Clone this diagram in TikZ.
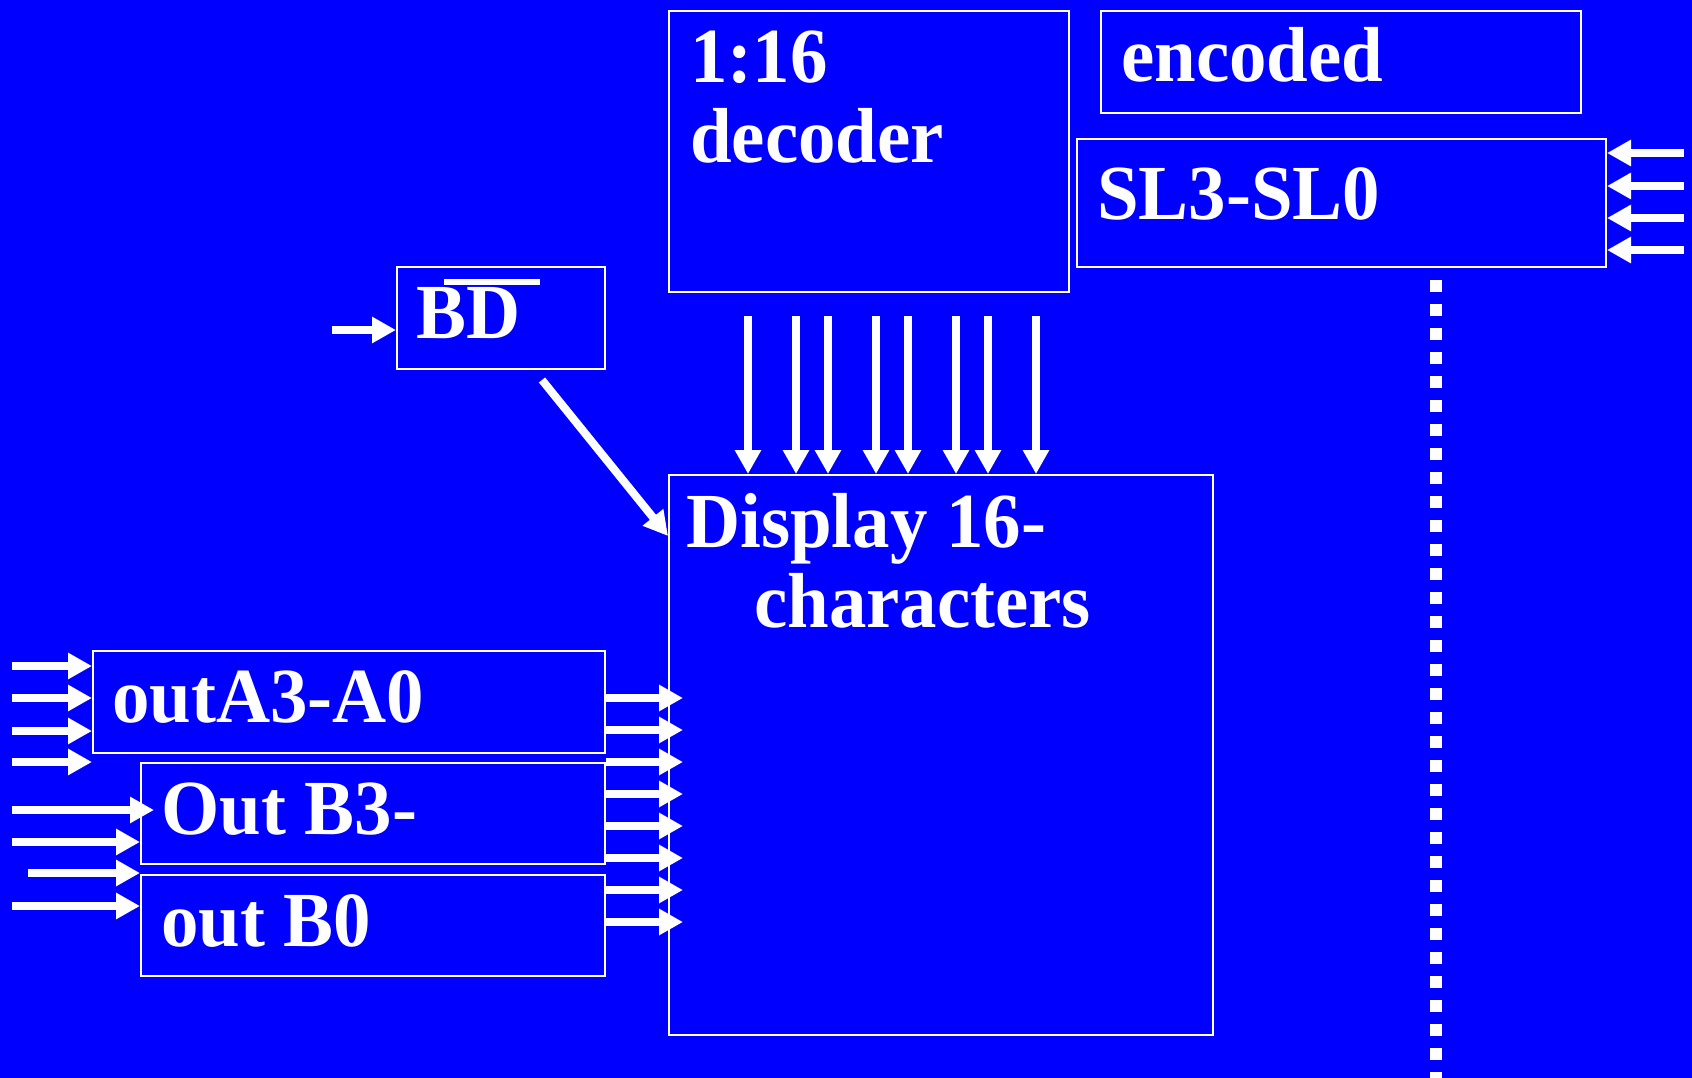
\documentclass[tikz,border=0pt]{standalone}
\usepackage{fontspec}
\setmainfont{Liberation Serif}[FakeStretch=0.96]
\usepackage{tikz}
\usetikzlibrary{arrows.meta, positioning, calc}

\begin{document}
\begin{tikzpicture}[x=1pt, y=-1pt,
	blk/.style={draw=white, line width=2pt, inner sep=0pt, anchor=north west},
	lbl/.style={text=white, inner sep=0pt, anchor=base west, font=\bfseries\fontsize{78}{80}\selectfont},
	sig/.style={white, line width=8pt, -{Triangle[length=24pt, width=25pt]}}]
	\fill[blue] (0,0) rectangle (1692,1078);
	\useasboundingbox (0,0) rectangle (1692,1078);
	\node[blk, minimum width=400, minimum height=281] (dec) at (668,10) {};
	\node[blk, minimum width=480, minimum height=102] (enc) at (1100,10) {};
	\node[blk, minimum width=529, minimum height=128] (sl) at (1076,138) {};
	\node[blk, minimum width=208, minimum height=102] (bd) at (396,266) {};
	\node[blk, minimum width=544, minimum height=560] (disp) at (668,474) {};
	\node[blk, minimum width=512, minimum height=102] (outa) at (92,650) {};
	\node[blk, minimum width=464, minimum height=101] (outb3) at (140,762) {};
	\node[blk, minimum width=464, minimum height=101] (outb0) at (140,874) {};
	\node[lbl] (declbl) at ([shift={(22,73)}]dec.north west) {1:16};
	\node[lbl] (declbl2) at ([shift={(22,153)}]dec.north west) {decoder};
	\node[lbl] (enclbl) at ([shift={(21,72)}]enc.north west) {encoded};
	\node[lbl] (sllbl) at ([shift={(21,82)}]sl.north west) {SL3-SL0};
	\node[lbl] (bdlbl) at ([shift={(20,72)}]bd.north west) {BD};
	\fill[white] ([shift={(48,13)}]bd.north west) rectangle ([shift={(144,19)}]bd.north west);
	\node[lbl] (displbl) at ([shift={(18,73)}]disp.north west) {Display 16-};
	\node[lbl] (displbl2) at ([shift={(86,153)}]disp.north west) {characters};
	\node[lbl] (outalbl) at ([shift={(20,72)}]outa.north west) {outA3-A0};
	\node[lbl] (outb3lbl) at ([shift={(21,72)}]outb3.north west) {Out B3-};
	\node[lbl] (outb0lbl) at ([shift={(21,72)}]outb0.north west) {out B0};
	\draw[sig] (332,330) -- (bd.west |- 0,330);
	\draw[sig] ([xshift=-64pt, yshift=-10pt]bd.south east) -- ([yshift=-62pt]disp.north west);
	\foreach \x in {748,796,828,876,908,956,988,1036}
		\draw[sig] ([yshift=-23pt]dec.south -| \x,0) -- (disp.north -| \x,0);
	\foreach \y in {153,186,218,250}
		\draw[sig] (1684,\y) -- (sl.east |- 0,\y);
	\foreach \y in {666,698,731,762}
		\draw[sig] (12,\y) -- (outa.west |- 0,\y);
	\draw[sig] (12,810) -- ([xshift=14pt]outb3.west |- 0,810);
	\draw[sig] (12,842) -- (outb3.west |- 0,842);
	\draw[sig] (28,873) -- (outb3.west |- 0,873);
	\draw[sig] (12,906) -- (outb0.west |- 0,906);
	\foreach \y in {698,730,762,794,826,858,890,922}
		\draw[sig] (outa.east |- 0,\y) -- ([xshift=15pt]disp.west |- 0,\y);
	\coordinate (dotend) at (1436,1078);
	\draw[white, line width=12pt, dash pattern=on 12pt off 12pt] ([yshift=-12pt]sl.south -| dotend) -- (dotend);
\end{tikzpicture}
\end{document}
